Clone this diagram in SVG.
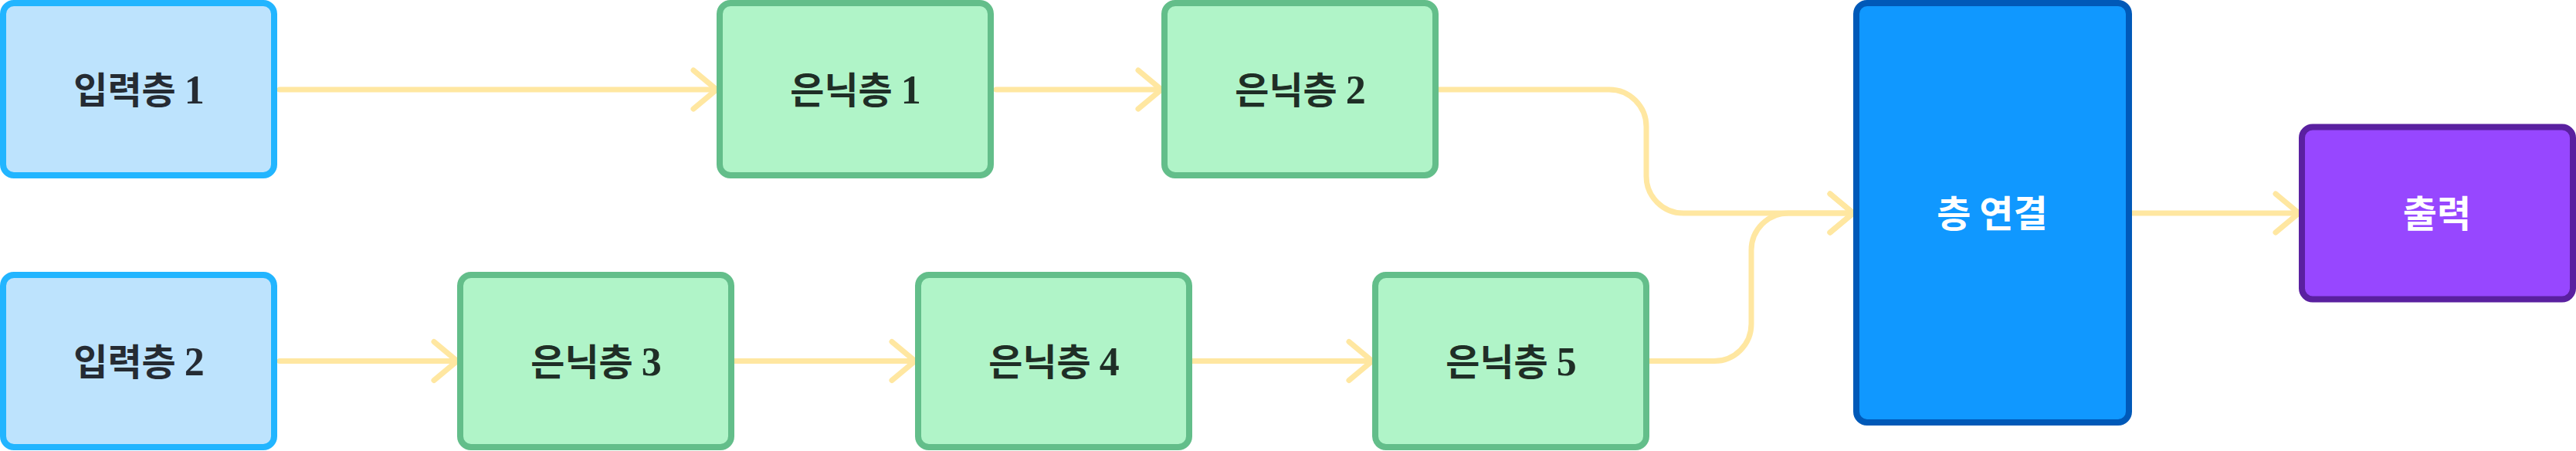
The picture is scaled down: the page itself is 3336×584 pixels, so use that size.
<svg xmlns="http://www.w3.org/2000/svg" width="3336" height="584" viewBox="0 0 3336 584">
<style>
.node rect{stroke-width:8}
.in rect{fill:#bde3fd;stroke:#22b5ff}
.hid rect{fill:#b0f4c8;stroke:#63be8a}
.cat rect{fill:#1098ff;stroke:#0059b8}
.out rect{fill:#9747ff;stroke:#5a20a0}
text{font-family:"Noto Sans CJK KR","Noto Sans",sans-serif;font-weight:700;font-size:48px;text-anchor:middle}
.in text{fill:#252b33}
.hid text{fill:#1f2e26}
.cat text,.out text{fill:#ffffff}
.d{font-family:"Liberation Serif",serif;font-weight:700;font-size:52px}
.edge{fill:none;stroke:#ffe7a1;stroke-width:7;stroke-linecap:round;stroke-linejoin:round}
</style>
<defs>
<marker id="arr" markerUnits="userSpaceOnUse" viewBox="0 0 40 60" markerWidth="40" markerHeight="60" refX="36" refY="30" orient="auto">
<path d="M6,5 L36,30 L6,55" fill="none" stroke="#ffe7a1" stroke-width="7" stroke-linecap="round" stroke-linejoin="round"/>
</marker>
</defs>
<g id="connectors">
<path class="edge" d="M362,116 H928" marker-end="url(#arr)"/>
<path class="edge" d="M1290,116 H1504" marker-end="url(#arr)"/>
<path class="edge" d="M1863,116 H2084 A48,48 0 0 1 2132,164 V228 A48,48 0 0 0 2180,276 H2400" marker-end="url(#arr)"/>
<path class="edge" d="M362,467.5 H592" marker-end="url(#arr)"/>
<path class="edge" d="M951,467.5 H1185" marker-end="url(#arr)"/>
<path class="edge" d="M1544,467.5 H1777" marker-end="url(#arr)"/>
<path class="edge" d="M2136,467.5 H2220 A48,48 0 0 0 2268,419.5 V324 A48,48 0 0 1 2316,276 H2400" marker-end="url(#arr)"/>
<path class="edge" d="M2762,276 H2977" marker-end="url(#arr)"/>
</g>
<g id="input1" class="node in"><rect x="4" y="4" width="351" height="223" rx="14"/><text x="180" y="134">입력층 <tspan class="d">1</tspan></text></g>
<g id="input2" class="node in"><rect x="4" y="356" width="351" height="223" rx="14"/><text x="180" y="486">입력층 <tspan class="d">2</tspan></text></g>
<g id="hidden1" class="node hid"><rect x="932" y="4" width="351" height="223" rx="14"/><text x="1108" y="134">은닉층 <tspan class="d">1</tspan></text></g>
<g id="hidden2" class="node hid"><rect x="1508" y="4" width="351" height="223" rx="14"/><text x="1684" y="134">은닉층 <tspan class="d">2</tspan></text></g>
<g id="hidden3" class="node hid"><rect x="596" y="356" width="351" height="223" rx="14"/><text x="772" y="486">은닉층 <tspan class="d">3</tspan></text></g>
<g id="hidden4" class="node hid"><rect x="1189" y="356" width="351" height="223" rx="14"/><text x="1365" y="486">은닉층 <tspan class="d">4</tspan></text></g>
<g id="hidden5" class="node hid"><rect x="1781" y="356" width="351" height="223" rx="14"/><text x="1957" y="486">은닉층 <tspan class="d">5</tspan></text></g>
<g id="concat" class="node cat"><rect x="2404" y="4" width="353" height="543" rx="14"/><text x="2580" y="294">층 연결</text></g>
<g id="output" class="node out"><rect x="2981" y="164.5" width="351" height="223" rx="14"/><text x="3156" y="294">출력</text></g>
</svg>
